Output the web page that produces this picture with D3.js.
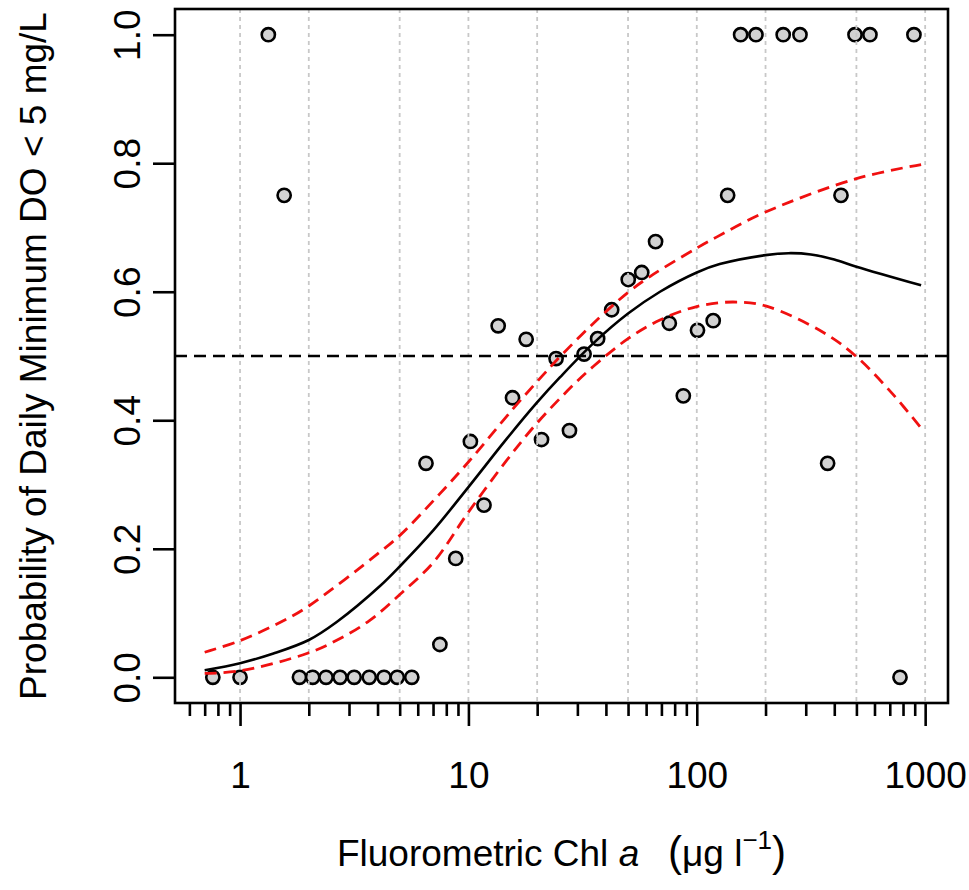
<!DOCTYPE html>
<html><head><meta charset="utf-8">
<script src="https://cdn.jsdelivr.net/npm/d3@7"></script>
<style>body{margin:0;background:#fff}svg text{font-family:"Liberation Sans",Arial,Helvetica,sans-serif;fill:#000}</style>
</head><body>
<svg id="chart" width="969" height="890"></svg>
<script>
// ---- data ----
const pointChl = [0.76, 1.0, 1.82, 2.08, 2.38, 2.74, 3.16, 3.68, 4.27, 4.88, 5.65, 776,
  1.33, 155.6, 181.6, 239, 283, 493, 573, 893,
  1.56, 7.5, 6.52, 8.8, 10.2, 11.7, 13.5, 15.6, 17.9, 20.9, 24.2, 27.7, 32.1, 36.8,
  42.4, 50.1, 57.4, 66, 75.8, 87.3, 100.7, 118, 136.5, 374, 428];
const pointProb = [0, 0, 0, 0, 0, 0, 0, 0, 0, 0, 0, 0,
  1, 1, 1, 1, 1, 1, 1, 1,
  0.75, 0.051, 0.333, 0.185, 0.367, 0.268, 0.547, 0.435, 0.526, 0.370, 0.496, 0.384, 0.503, 0.527,
  0.572, 0.619, 0.630, 0.678, 0.551, 0.438, 0.540, 0.555, 0.75, 0.333, 0.75];

const fitChl  = [0.70, 1, 1.4, 2, 2.65, 4.1, 5.05, 7.03, 10, 14.7, 19.9, 25.2, 35.3, 50, 69, 100, 126, 200, 252, 316, 400, 500, 960];
const fitProb = [0.011, 0.022, 0.037, 0.058, 0.086, 0.142, 0.174, 0.229, 0.296, 0.371, 0.427, 0.467, 0.520, 0.566, 0.600, 0.630, 0.643, 0.657, 0.660, 0.658, 0.650, 0.639, 0.610];

const upperChl  = [0.70, 1, 1.57, 2, 4.1, 5.05, 7.03, 10, 15.7, 21.3, 25.2, 35.3, 50, 62.6, 100, 122, 200, 500, 960];
const upperProb = [0.039, 0.057, 0.089, 0.111, 0.195, 0.222, 0.275, 0.335, 0.418, 0.471, 0.499, 0.551, 0.599, 0.624, 0.668, 0.685, 0.724, 0.776, 0.798];

const lowerChl  = [0.70, 1, 1.96, 2.65, 3.7, 5.05, 7.03, 10, 14.7, 19.9, 28.8, 35.3, 50, 69, 100, 144, 200, 357, 500, 720, 960];
const lowerProb = [0.006, 0.010, 0.037, 0.0575, 0.0886, 0.130, 0.179, 0.257, 0.3375, 0.395, 0.455, 0.484, 0.527, 0.556, 0.577, 0.584, 0.578, 0.537, 0.499, 0.441, 0.388];

const threshold = 0.5;
const xMajorTicks = [1, 10, 100, 1000];
const xMinorTicks = [0.6, 0.7, 0.8, 0.9, 2, 3, 4, 5, 6, 7, 8, 9, 20, 30, 40, 50, 60, 70, 80, 90, 200, 300, 400, 500, 600, 700, 800, 900];
const xGridValues = [1, 2, 5, 10, 20, 50, 100, 200, 500, 1000];
const yTicks = [0, 0.2, 0.4, 0.6, 0.8, 1.0];
const xDomain = [0.519, 1259];
const yDomain = [-0.04, 1.04];

// ---- layout ----
const L = 175, R = 948, T = 9, B = 703;
const FS = 37;
const svg = d3.select("#chart");
const x = d3.scaleLog().domain(xDomain).range([L, R]);
const y = d3.scaleLinear().domain(yDomain).range([B, T]);

// points (drawn first; grid and lines go over them as in the reference)
svg.append("g").selectAll("circle")
  .data(pointChl.map((c, i) => [c, pointProb[i]]))
  .join("circle")
  .attr("cx", d => x(d[0])).attr("cy", d => y(d[1])).attr("r", 6.6)
  .attr("fill", "#d2d2d2").attr("stroke", "#000").attr("stroke-width", 2.6);

// vertical dotted grid
svg.append("g").selectAll("line").data(xGridValues).join("line")
  .attr("x1", d => x(d)).attr("x2", d => x(d)).attr("y1", T).attr("y2", B)
  .attr("stroke", "#c8c8c8").attr("stroke-width", 1.8).attr("stroke-dasharray", "4,4");

// curves
const mk = (xs, ys) => xs.map((v, i) => [v, ys[i]]);
const line = d3.line().x(d => x(d[0])).y(d => y(d[1])).curve(d3.curveCatmullRom.alpha(0.5));
svg.append("path").attr("d", line(mk(upperChl, upperProb)))
  .attr("fill", "none").attr("stroke", "#f01010").attr("stroke-width", 2.8).attr("stroke-dasharray", "12,7");
svg.append("path").attr("d", line(mk(lowerChl, lowerProb)))
  .attr("fill", "none").attr("stroke", "#f01010").attr("stroke-width", 2.8).attr("stroke-dasharray", "12,7");
svg.append("path").attr("d", line(mk(fitChl, fitProb)))
  .attr("fill", "none").attr("stroke", "#000").attr("stroke-width", 2.6);

// threshold
svg.append("line").attr("x1", L).attr("x2", R).attr("y1", y(threshold)).attr("y2", y(threshold))
  .attr("stroke", "#000").attr("stroke-width", 2.4).attr("stroke-dasharray", "12,7");

// frame
svg.append("rect").attr("x", L).attr("y", T).attr("width", R - L).attr("height", B - T)
  .attr("fill", "none").attr("stroke", "#000").attr("stroke-width", 2.6);

// x axis: major
const gxMaj = svg.append("g").attr("transform", `translate(0,${B})`)
  .call(d3.axisBottom(x).tickValues(xMajorTicks).tickSize(23).tickPadding(36).tickFormat(d3.format("d")));
gxMaj.select(".domain").remove();
gxMaj.selectAll("line").attr("stroke", "#000").attr("stroke-width", 2.6);
gxMaj.selectAll("text").attr("font-size", FS).style("font-family", '"Liberation Sans",Arial,sans-serif');
// x axis: minor
const gxMin = svg.append("g").attr("transform", `translate(0,${B})`)
  .call(d3.axisBottom(x).tickValues(xMinorTicks).tickSize(13).tickFormat(""));
gxMin.select(".domain").remove();
gxMin.selectAll("line").attr("stroke", "#000").attr("stroke-width", 2.6);

// y axis
const gy = svg.append("g").attr("transform", `translate(${L},0)`)
  .call(d3.axisLeft(y).tickValues(yTicks).tickSize(22).tickFormat(d3.format(".1f")));
gy.select(".domain").remove();
gy.selectAll("line").attr("stroke", "#000").attr("stroke-width", 2.6);
gy.selectAll("text")
  .attr("font-size", FS).style("font-family", '"Liberation Sans",Arial,sans-serif')
  .attr("x", 0).attr("y", -35).attr("dy", 0)
  .attr("text-anchor", "middle").attr("transform", "rotate(-90)");

// axis titles
svg.append("text").attr("transform", `translate(46,${(T + B) / 2}) rotate(-90)`)
  .attr("text-anchor", "middle").attr("font-size", FS)
  .text("Probability of Daily Minimum DO < 5 mg/L");

const xt = svg.append("text").attr("x", (L + R) / 2).attr("y", 866)
  .attr("text-anchor", "middle").attr("font-size", FS).attr("xml:space", "preserve");
xt.append("tspan").text("Fluorometric Chl ");
xt.append("tspan").attr("font-style", "italic").text("a");
xt.append("tspan").text("\u2002 ");
xt.append("tspan").attr("font-size", 42).text("(");
xt.append("tspan").text("\u03BCg l");
xt.append("tspan").attr("font-size", 26).attr("dy", -17).text("\u22121");
xt.append("tspan").attr("font-size", 42).attr("dy", 17).text(")");
</script>
</body></html>
